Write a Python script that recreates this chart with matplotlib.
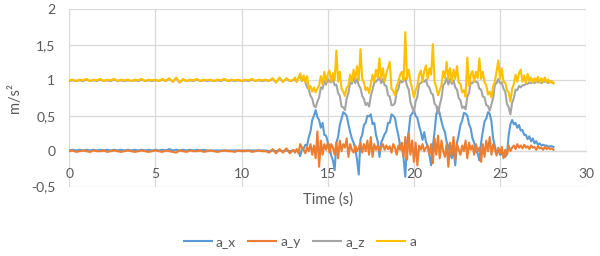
import numpy as np
import matplotlib.pyplot as plt

# sampling grid: 0.2 s while standing still, 0.1 s while walking
time = np.round(np.r_[np.arange(0, 12.9, 0.2), np.arange(13.0, 28.15, 0.1)], 1)

# --- standing still, 0 .. 12.8 s (step 0.2 s) ---
ax_still = [
    0.01, 0.02, 0.01, 0.02, 0.01, 0.02, 0.01, 0.02, 0.01, 0.02,
    0.01, 0.02, 0.01, 0.02, 0.01, 0.02, 0.01, 0.02, 0.01, 0.02,
    0.01, 0.02, 0.01, 0.02, 0.01, 0.02, 0.01, 0.02, 0.01, 0.03,
    0.01, 0.02, 0.01, 0.02, 0.01, 0.02, 0.01, 0.02, 0.01, 0.02,
    0.01, 0.01, 0.01, 0.01, 0.01, 0.01, 0.01, 0.01, 0.01, 0.01,
    0.01, 0.01, 0.01, 0.01, 0.01, 0.01, 0.01, 0.01, 0.00, 0.01,
    0.00, 0.01, 0.00, 0.01, 0.00,
]
ay_still = [
    0.00, 0.01, -0.01, 0.00, 0.01, 0.00, -0.01, 0.01, 0.00, 0.00,
    0.01, -0.01, 0.00, 0.01, 0.00, -0.01, 0.00, 0.01, 0.00, -0.01,
    0.00, 0.01, 0.00, -0.01, 0.00, 0.01, 0.00, -0.01, 0.01, 0.00,
    -0.01, -0.02, 0.01, 0.00, -0.01, 0.01, 0.00, 0.00, 0.01, -0.01,
    0.00, 0.01, 0.00, -0.01, 0.00, 0.01, 0.00, 0.00, -0.01, 0.01,
    0.00, 0.00, 0.01, -0.01, 0.00, 0.01, 0.00, 0.00, -0.02, 0.03,
    -0.03, 0.03, -0.02, 0.04, -0.03,
]
az_still = [
    0.99, 1.00, 0.99, 1.00, 0.99, 1.01, 0.99, 1.00, 0.99, 1.01,
    0.99, 1.00, 0.99, 1.01, 0.99, 1.00, 0.99, 1.00, 0.99, 1.00,
    0.99, 1.01, 0.99, 1.00, 0.99, 1.00, 0.99, 1.01, 0.99, 1.02,
    0.98, 1.03, 0.97, 1.01, 0.99, 1.00, 0.99, 1.01, 0.99, 1.00,
    0.99, 1.00, 0.99, 1.00, 0.99, 1.01, 0.99, 1.00, 0.99, 1.00,
    0.99, 1.00, 0.99, 1.01, 0.99, 1.00, 0.99, 1.00, 0.99, 1.02,
    0.97, 1.03, 0.98, 1.02, 0.99,
]
a_still = [
    1.00, 1.01, 0.99, 1.01, 1.00, 1.02, 0.99, 1.01, 1.00, 1.02,
    0.99, 1.01, 1.00, 1.02, 0.99, 1.01, 1.00, 1.01, 0.99, 1.01,
    1.00, 1.02, 0.99, 1.01, 1.00, 1.01, 0.99, 1.02, 0.99, 1.03,
    0.98, 1.04, 0.97, 1.02, 0.99, 1.01, 1.00, 1.02, 0.99, 1.01,
    1.00, 1.01, 0.99, 1.01, 1.00, 1.02, 0.99, 1.01, 1.00, 1.01,
    0.99, 1.01, 1.00, 1.02, 0.99, 1.01, 1.00, 1.01, 0.99, 1.03,
    0.97, 1.04, 0.98, 1.03, 0.99,
]

# --- walking, 13.0 .. 28.1 s (step 0.1 s), one row per second ---
ax_walk = [
    0.01, 0.00, 0.01, 0.00, -0.07, 0.03, 0.04, 0.09, 0.08, 0.20,
    0.28, 0.44, 0.50, 0.58, 0.48, 0.44, 0.33, 0.40, 0.23, 0.22,
    0.13, 0.07, -0.06, -0.13, -0.27, 0.12, 0.20, 0.37, 0.46, 0.55,
    0.53, 0.50, 0.38, 0.27, 0.18, 0.12, 0.03, -0.12, -0.33, 0.17,
    0.23, 0.37, 0.40, 0.50, 0.49, 0.52, 0.38, 0.40, 0.23, 0.14,
    -0.08, 0.12, 0.18, 0.24, 0.28, 0.40, 0.40, 0.52, 0.50, 0.47,
    0.33, 0.22, 0.08, 0.07, -0.10, -0.36, 0.12, 0.28, 0.50, 0.53,
    0.58, 0.50, 0.47, 0.36, 0.27, 0.16, 0.27, 0.13, 0.07, -0.05,
    -0.20, 0.07, 0.28, 0.52, 0.62, 0.53, 0.42, 0.33, 0.27, 0.13,
    0.07, -0.02, -0.10, 0.04, -0.20, 0.12, 0.23, 0.37, 0.43, 0.54,
    0.53, 0.50, 0.38, 0.32, 0.18, 0.12, 0.00, -0.03, -0.13, 0.12,
    0.28, 0.42, 0.46, 0.55, 0.53, 0.42, 0.18, 0.07, -0.04, 0.02,
    -0.05, -0.03, -0.07, -0.08, -0.04, 0.22, 0.38, 0.44, 0.38, 0.40,
    0.33, 0.37, 0.29, 0.30, 0.23, 0.23, 0.17, 0.21, 0.14, 0.18,
    0.11, 0.14, 0.09, 0.11, 0.08, 0.09, 0.08, 0.08, 0.06, 0.07,
    0.07, 0.06,
]
ay_walk = [
    0.02, -0.02, 0.03, -0.03, 0.10, 0.05, 0.02, -0.03, 0.06, 0.00,
    0.10, -0.05, 0.08, -0.10, 0.28, -0.22, 0.15, -0.05, 0.10, 0.02,
    0.12, -0.02, 0.10, 0.05, -0.05, 0.12, -0.10, 0.15, 0.00, 0.10,
    0.05, 0.18, -0.08, 0.10, 0.02, -0.02, 0.08, 0.00, 0.05, 0.12,
    -0.02, 0.10, 0.00, 0.15, -0.05, 0.20, -0.08, 0.10, 0.02, 0.08,
    0.00, 0.05, 0.10, 0.02, 0.08, 0.03, 0.07, -0.02, 0.10, 0.05,
    -0.05, 0.08, 0.02, 0.12, -0.08, 0.20, -0.12, 0.25, -0.05, 0.15,
    -0.15, 0.12, -0.20, 0.08, 0.02, 0.10, 0.00, 0.05, 0.08, -0.05,
    0.10, -0.17, 0.18, -0.05, 0.22, -0.10, 0.15, 0.00, -0.08, 0.10,
    -0.22, 0.12, -0.05, 0.20, -0.12, 0.10, 0.02, -0.05, 0.08, 0.00,
    0.15, -0.10, 0.12, 0.02, 0.08, -0.05, 0.10, 0.00, 0.05, -0.15,
    0.10, -0.08, 0.15, 0.00, 0.20, -0.05, 0.10, 0.02, -0.06, 0.05,
    -0.03, 0.06, -0.10, 0.02, -0.05, 0.08, 0.00, 0.05, 0.08, 0.03,
    0.10, 0.05, 0.08, 0.04, 0.09, 0.05, 0.07, 0.03, 0.08, 0.05,
    0.06, 0.02, 0.07, 0.04, 0.05, 0.02, 0.06, 0.03, 0.05, 0.03,
    0.04, 0.02,
]
az_walk = [
    1.00, 1.02, 0.98, 1.03, 1.06, 0.99, 1.04, 0.97, 0.90, 0.87,
    0.78, 0.74, 0.64, 0.62, 0.70, 0.76, 0.90, 0.88, 0.99, 0.94,
    1.02, 0.98, 0.97, 1.03, 0.93, 0.94, 0.82, 0.78, 0.63, 0.62,
    0.58, 0.75, 0.82, 0.97, 0.95, 1.04, 0.96, 1.02, 0.93, 0.89,
    0.78, 0.74, 0.65, 0.68, 0.63, 0.78, 0.87, 0.97, 0.98, 1.01,
    1.04, 0.96, 1.02, 0.93, 0.92, 0.79, 0.77, 0.65, 0.65, 0.68,
    0.83, 0.88, 1.00, 0.97, 0.99, 1.03, 0.92, 0.87, 0.69, 0.62,
    0.55, 0.70, 0.77, 0.95, 0.96, 0.99, 0.98, 1.01, 0.92, 0.90,
    0.82, 0.80, 0.67, 0.64, 0.53, 0.65, 0.75, 0.93, 0.96, 1.03,
    0.94, 1.02, 0.95, 1.00, 0.90, 0.87, 0.75, 0.72, 0.61, 0.63,
    0.59, 0.77, 0.82, 0.97, 0.96, 0.99, 0.98, 0.97, 0.88, 0.87,
    0.77, 0.76, 0.65, 0.64, 0.57, 0.66, 0.75, 0.94, 0.96, 1.02,
    0.96, 0.97, 0.88, 0.84, 0.67, 0.62, 0.52, 0.68, 0.75, 0.87,
    0.86, 0.92, 0.90, 0.93, 0.93, 0.95, 0.95, 0.97, 0.96, 0.98,
    0.96, 0.99, 0.97, 0.99, 0.96, 0.98, 0.98, 0.99, 0.96, 0.99,
    0.97, 0.96,
]
a_walk = [
    1.01, 1.04, 0.98, 1.03, 1.10, 0.99, 1.07, 0.97, 1.06, 0.88,
    0.92, 0.84, 0.90, 0.83, 0.88, 0.93, 1.06, 0.94, 1.12, 0.98,
    1.08, 1.14, 0.98, 1.10, 1.00, 1.42, 0.98, 1.12, 0.88, 0.84,
    0.78, 0.90, 0.92, 1.08, 0.98, 1.15, 1.02, 1.20, 1.00, 1.44,
    1.02, 0.97, 0.86, 0.90, 0.82, 0.95, 1.08, 0.98, 1.15, 1.03,
    1.31, 1.02, 1.17, 0.98, 1.10, 1.18, 1.26, 0.88, 0.85, 0.79,
    0.92, 0.98, 1.08, 1.12, 1.00, 1.68, 1.02, 1.15, 0.98, 0.88,
    0.76, 0.86, 0.92, 1.08, 1.14, 0.98, 1.13, 1.21, 1.02, 1.17,
    1.08, 1.51, 0.98, 0.90, 0.79, 0.86, 0.93, 1.13, 1.03, 1.26,
    1.02, 1.17, 0.98, 1.15, 1.02, 1.20, 0.97, 0.95, 0.83, 0.86,
    0.77, 1.32, 0.92, 1.08, 1.13, 0.98, 1.12, 1.03, 1.31, 1.02,
    1.12, 0.97, 0.93, 0.80, 0.84, 0.76, 0.92, 0.98, 1.13, 1.28,
    1.02, 1.17, 0.98, 0.97, 0.86, 0.83, 0.70, 0.88, 0.95, 1.08,
    0.98, 1.10, 1.15, 0.98, 1.07, 0.96, 1.09, 0.99, 1.04, 0.97,
    1.03, 0.99, 1.05, 0.97, 1.03, 0.98, 1.04, 0.97, 1.01, 0.97,
    0.99, 0.96,
]

series = {
    "a_x": (ax_still + ax_walk, "#5B9BD5"),
    "a_y": (ay_still + ay_walk, "#ED7D31"),
    "a_z": (az_still + az_walk, "#A5A5A5"),
    "a": (a_still + a_walk, "#FFC000"),
}

x_ticks = [0, 5, 10, 15, 20, 25, 30]
y_ticks = [-0.5, 0, 0.5, 1, 1.5, 2]
y_labels = ["-0,5", "0", "0,5", "1", "1,5", "2"]

plt.rcParams["font.family"] = ["Lato", "DejaVu Sans"]
text_col = "#595959"
grid_col = "#D9D9D9"

fig = plt.figure(figsize=(6.0, 2.56), dpi=100)
ax = fig.add_axes([0.1155, 0.271, 0.8615, 0.692])

for name, (vals, col) in series.items():
    ax.plot(time, vals, color=col, lw=1.5, label=name, zorder=3)

ax.set_xlim(0, 30)
ax.set_ylim(-0.5, 2)
ax.set_xticks(x_ticks)
ax.set_yticks(y_ticks)
ax.set_yticklabels(y_labels)
ax.grid(True, color=grid_col, lw=0.9, zorder=0)

for side in ["top", "right", "left"]:
    ax.spines[side].set_visible(False)
ax.spines["bottom"].set_position(("data", 0))
ax.spines["bottom"].set_color(grid_col)
ax.spines["bottom"].set_linewidth(0.9)
ax.spines["bottom"].set_zorder(1)

ax.tick_params(axis="both", length=0, labelsize=10, labelcolor=text_col)
ax.tick_params(axis="x", pad=12)
ax.tick_params(axis="y", pad=10)

ax.set_xlabel("Time (s)", fontsize=10.5, color=text_col, va="center")
ax.xaxis.set_label_coords(0.5, -0.075)
ax.set_ylabel("m/s²", fontsize=10.5, color=text_col, va="center")
ax.yaxis.set_label_coords(-0.105, 0.5)

fig.legend(loc="center", bbox_to_anchor=(0.5, 1 - 242 / 256), ncol=4,
           frameon=False, fontsize=10, handlelength=2.0, handletextpad=0.3,
           columnspacing=0.9, labelcolor=text_col)

fig.savefig("out.png", dpi=100)
